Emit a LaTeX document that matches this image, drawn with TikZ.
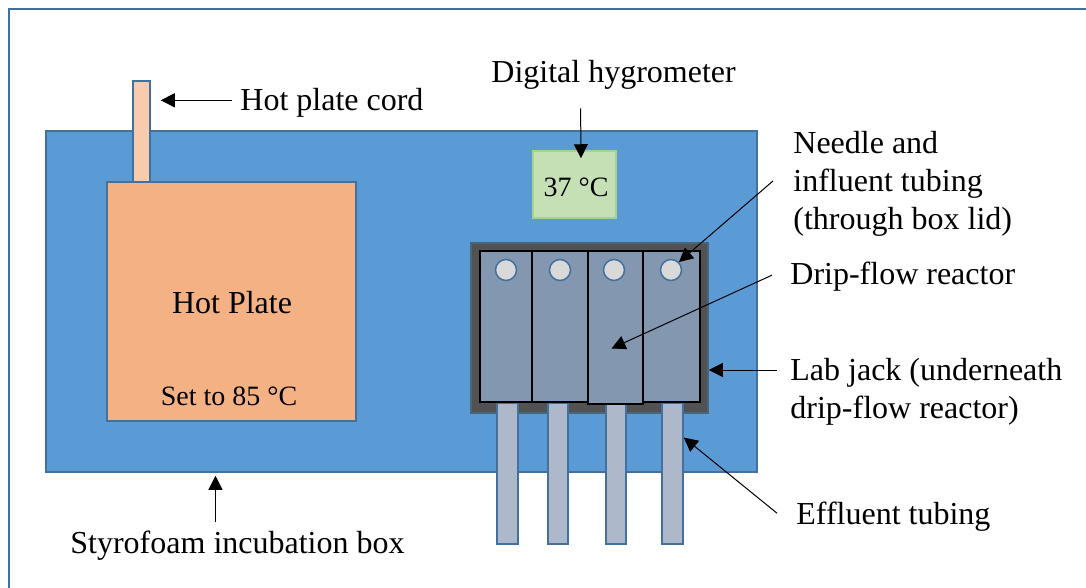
\documentclass[tikz,border=0pt]{standalone}
\usepackage{fontspec}
\setmainfont{Liberation Serif}
\usetikzlibrary{fit,arrows.meta}
\definecolor{edgeblue}{HTML}{41719C}
\definecolor{boxblue}{HTML}{5B9BD5}
\definecolor{plateorange}{HTML}{F4B183}
\definecolor{cordpeach}{HTML}{F8CBAD}
\definecolor{hyggreen}{HTML}{C5E0B4}
\definecolor{hygedge}{HTML}{A9D18E}
\definecolor{jackgray}{HTML}{525252}
\definecolor{reactorblue}{HTML}{8497B0}
\definecolor{portgray}{HTML}{D9D9D9}
\definecolor{tubegray}{HTML}{ADB9CA}
\begin{document}
\begin{tikzpicture}[x=0.5pt,y=-0.5pt,
  part/.style={inner sep=0pt, line width=0.75pt},
  channel/.style={part, draw=black, line width=1.2pt, fill=reactorblue},
  tube/.style={part, draw=edgeblue, fill=tubegray},
  port/.style={circle, minimum size=10.5pt, inner sep=0pt, draw=edgeblue, fill=portgray, line width=0.75pt},
  lbl/.style={inner sep=0pt, font=\fontsize{16}{19}\selectfont},
  small/.style={inner sep=0pt, font=\fontsize{14}{17}\selectfont},
  arr/.style={-{Triangle[length=7pt,width=7pt]}, line width=0.5pt, black}]
\useasboundingbox (0,0) rectangle (1086,588);
\begin{scope}
\clip (0,0) rectangle (1086,588);
\draw[edgeblue, line width=1pt] (9,9) rectangle (1120,620);
\end{scope}
% incubation box
\node[part, fit={(46,131)(757,472)}, draw=edgeblue, fill=boxblue] (box) {};
% hot plate and cord
\node[part, fit={(133,81)(150,182)}, draw=edgeblue, fill=cordpeach] (cord) {};
\node[part, fit={(107,182)(356,421)}, draw=edgeblue, fill=plateorange] (plate) {};
\node[lbl, anchor=base] (platetitle) at (232,313) {Hot Plate};
\node[small, anchor=base] (plateset) at (229,405) {Set to 85 °C};
% hygrometer
\node[part, fit={(533,151)(616,218)}, draw=hygedge, fill=hyggreen] (hyg) {};
\node[small, anchor=base] (hygtemp) at (576,197) {37 °C};
% lab jack
\node[part, fit={(471,243)(708,413)}, draw=edgeblue!60!jackgray, fill=jackgray] (jack) {};
% effluent tubes
\node[tube, fit={(497,403)(518,544)}] (tube1) {};
\node[tube, fit={(548,403)(568,544)}] (tube2) {};
\node[tube, fit={(606,403)(626,544)}] (tube3) {};
\node[tube, fit={(662,403)(683,544)}] (tube4) {};
% reactor channels
\node[channel, fit={(480,251)(532,402)}] (ch1) {};
\node[channel, fit={(532,251)(588,402)}] (ch2) {};
\node[channel, fit={(588,251)(643,404)}] (ch3) {};
\node[channel, fit={(643,251)(700,402)}] (ch4) {};
% ports
\node[port] (p1) at (506,270) {};
\node[port] (p2) at (560,270) {};
\node[port] (p3) at (614,270) {};
\node[port] (p4) at (671,270) {};
% labels
\node[lbl, anchor=base west] (cordlbl) at (240,111) {Hot plate cord};
\node[lbl, anchor=base west] (hyglbl) at (491,83) {Digital hygrometer};
\node[lbl, anchor=north west, align=left] (needlelbl) at (793,131) {Needle and\\influent tubing\\(through box lid)};
\node[lbl, anchor=base west] (driplbl) at (790,285) {Drip-flow reactor};
\node[lbl, anchor=north west, align=left] (jacklbl) at (790,358) {Lab jack (underneath\\drip-flow reactor)};
\node[lbl, anchor=base west] (efflbl) at (796,524) {Effluent tubing};
\node[lbl, anchor=base west] (styrolbl) at (70,553) {Styrofoam incubation box};
% arrows
\coordinate (ct) at ([xshift=-4pt,yshift=1.5pt]cordlbl.west);
\draw[arr] (ct) -- ([xshift=5pt]ct -| cord.east);
\draw[arr] ([xshift=-16.5pt,yshift=-9pt]hyglbl.south) -- ([xshift=3.25pt,yshift=-4pt]hyg.north);
\draw[arr] ([xshift=-10pt,yshift=1.5pt]needlelbl.west) -- (p4.north east);
\draw[arr] ([xshift=-9pt,yshift=1pt]driplbl.west) -- ([xshift=-2pt,yshift=-10.5pt]ch3.center);
\coordinate (jt) at ([xshift=-6.5pt,yshift=-6pt]jacklbl.north west);
\draw[arr] (jt) -- (jt -| jack.east);
\draw[arr] ([xshift=-9.5pt,yshift=1.5pt]efflbl.west) -- ([yshift=18pt]tube4.east);
\coordinate (st) at ([xshift=-11pt,yshift=4pt]styrolbl.north);
\draw[arr] (st) -- ([yshift=-1.5pt]st |- box.south);
\end{tikzpicture}
\end{document}
